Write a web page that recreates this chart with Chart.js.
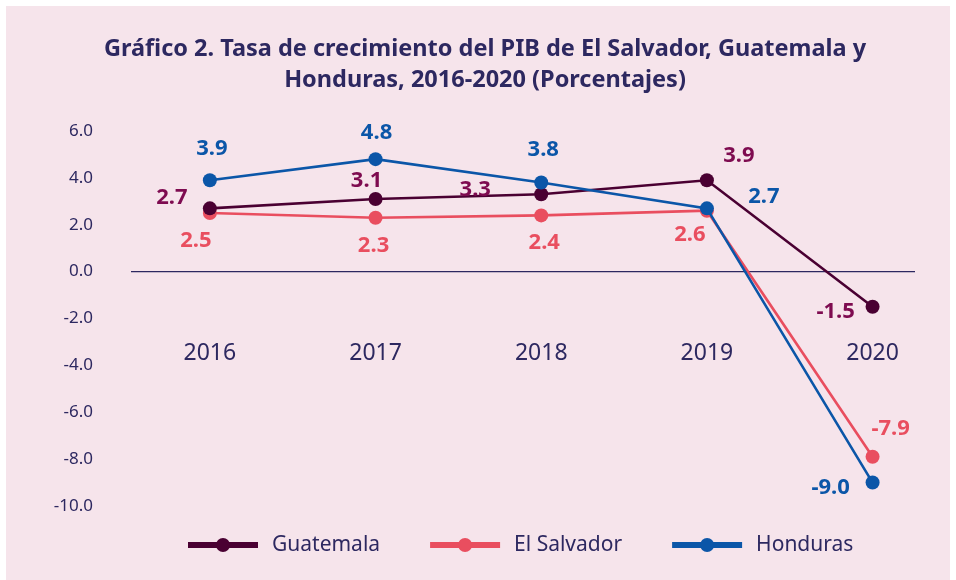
<!DOCTYPE html>
<html>
<head>
<meta charset="utf-8">
<script src="https://cdn.jsdelivr.net/npm/chart.js@4.4.1/dist/chart.umd.min.js"></script>
<style>
  html, body { margin: 0; padding: 0; background: #ffffff; }
  #wrap { width: 956px; height: 580px; }
</style>
</head>
<body>
<div id="wrap"><canvas id="pibChart" width="956" height="580"></canvas></div>
<script>
// Chart data
const years = ['2016', '2017', '2018', '2019', '2020'];
const guatemala = [2.7, 3.1, 3.3, 3.9, -1.5];
const elSalvador = [2.5, 2.3, 2.4, 2.6, -7.9];
const honduras = [3.9, 4.8, 3.8, 2.7, -9.0];
const yTicks = [6, 4, 2, 0, -2, -4, -6, -8, -10];
const titleLines = [
    'Gráfico 2. Tasa de crecimiento del PIB de El Salvador, Guatemala y',
    'Honduras, 2016-2020 (Porcentajes)'
];

// Value label placement (pixel offsets from each point)
const offsGuatemala = [[-38, -11], [-9, -18], [-66, -5], [32, -24], [-37, 5]];
const offsElSalvador = [[-14, 28], [-2, 28], [3, 27], [-17, 24], [18, -28]];
const offsHonduras = [[2, -31], [1, -26], [2, -33], [57, -12], [-42, 5]];

const COLORS = {
    guatemala: '#4a0032',
    guatemalaText: '#7e0b50',
    elSalvador: '#e94e5f',
    honduras: '#0b56a8',
    navy: '#2d2860',
    panel: '#f6e4eb'
};

function toPoints(arr) {
    return arr.map((v, i) => ({ x: i, y: v }));
}

// pink panel + title
const panelPlugin = {
    id: 'panel',
    beforeDraw(chart) {
        const ctx = chart.ctx;
        ctx.save();
        ctx.fillStyle = '#ffffff';
        ctx.fillRect(0, 0, chart.width, chart.height);
        ctx.fillStyle = COLORS.panel;
        ctx.fillRect(6, 6, chart.width - 12, chart.height - 6);

        ctx.fillStyle = COLORS.navy;
        ctx.font = 'bold 23.5px "Noto Sans"';
        ctx.textAlign = 'center';
        ctx.textBaseline = 'middle';
        titleLines.forEach((line, i) => {
            ctx.fillText(line, 485, 49 + i * 31);
        });
        ctx.restore();
    }
};

// value labels next to points
const valueLabels = {
    id: 'valueLabels',
    afterDatasetsDraw(chart) {
        const ctx = chart.ctx;
        ctx.save();
        ctx.font = 'bold 22px "Noto Sans"';
        ctx.textAlign = 'center';
        ctx.textBaseline = 'middle';
        chart.data.datasets.forEach((ds, di) => {
            const meta = chart.getDatasetMeta(di);
            ctx.fillStyle = ds.labelColor;
            meta.data.forEach((pt, i) => {
                const off = ds.labelOffsets[i];
                ctx.fillText(ds.data[i].y.toFixed(1), pt.x + off[0], pt.y + off[1]);
            });
        });
        ctx.restore();
    }
};

// legend: line with a dot, then the name
const lineLegend = {
    id: 'lineLegend',
    afterDraw(chart) {
        const ctx = chart.ctx;
        const y = 545;
        let x = 188;
        ctx.save();
        ctx.font = '21px "Noto Sans"';
        ctx.textBaseline = 'middle';
        ctx.textAlign = 'left';
        chart.data.datasets.forEach(ds => {
            ctx.strokeStyle = ds.borderColor;
            ctx.lineWidth = 6;
            ctx.beginPath();
            ctx.moveTo(x, y);
            ctx.lineTo(x + 70, y);
            ctx.stroke();
            ctx.fillStyle = ds.borderColor;
            ctx.beginPath();
            ctx.arc(x + 35, y, 7, 0, Math.PI * 2);
            ctx.fill();
            ctx.fillStyle = COLORS.navy;
            ctx.fillText(ds.label, x + 84, y);
            x += 84 + ctx.measureText(ds.label).width + 50;
        });
        ctx.restore();
    }
};

const ctx = document.getElementById('pibChart').getContext('2d');

new Chart(ctx, {
    type: 'line',
    data: {
        datasets: [
            {
                label: 'Guatemala',
                data: toPoints(guatemala),
                borderColor: COLORS.guatemala,
                backgroundColor: COLORS.guatemala,
                labelColor: COLORS.guatemalaText,
                labelOffsets: offsGuatemala,
                order: 2
            },
            {
                label: 'El Salvador',
                data: toPoints(elSalvador),
                borderColor: COLORS.elSalvador,
                backgroundColor: COLORS.elSalvador,
                labelColor: COLORS.elSalvador,
                labelOffsets: offsElSalvador,
                order: 3
            },
            {
                label: 'Honduras',
                data: toPoints(honduras),
                borderColor: COLORS.honduras,
                backgroundColor: COLORS.honduras,
                labelColor: COLORS.honduras,
                labelOffsets: offsHonduras,
                order: 1
            }
        ]
    },
    options: {
        responsive: false,
        animation: false,
        clip: false,
        elements: {
            line: { borderWidth: 2.6, tension: 0 },
            point: { radius: 7, borderWidth: 0 }
        },
        layout: {
            padding: { top: 131, right: 42, bottom: 74, left: 0 }
        },
        plugins: {
            legend: { display: false },
            tooltip: { enabled: false },
            title: { display: false }
        },
        scales: {
            x: {
                type: 'linear',
                min: -0.47,
                max: 4.25,
                position: { y: 0 },
                afterBuildTicks: (scale) => {
                    scale.ticks = years.map((y, i) => ({ value: i }));
                },
                afterFit: (scale) => {
                    // label padding is only there to push years below the zero line
                    scale.paddingLeft = 0;
                    scale.paddingRight = 0;
                },
                ticks: {
                    color: COLORS.navy,
                    font: { family: 'Noto Sans', size: 23 },
                    padding: 68,
                    callback: (v) => years[Math.round(v)]
                },
                grid: { display: false, drawTicks: false },
                border: { display: true, color: COLORS.navy, width: 1.2 }
            },
            y: {
                min: -10,
                max: 6,
                afterFit: (scale) => { scale.width = 132; },
                afterBuildTicks: (scale) => {
                    scale.ticks = yTicks.map(v => ({ value: v }));
                },
                ticks: {
                    color: COLORS.navy,
                    font: { family: 'Noto Sans', size: 17 },
                    padding: 39,
                    callback: (v) => v.toFixed(1)
                },
                grid: { display: false, drawTicks: false },
                border: { display: false }
            }
        }
    },
    plugins: [panelPlugin, valueLabels, lineLegend]
});
</script>
</body>
</html>
